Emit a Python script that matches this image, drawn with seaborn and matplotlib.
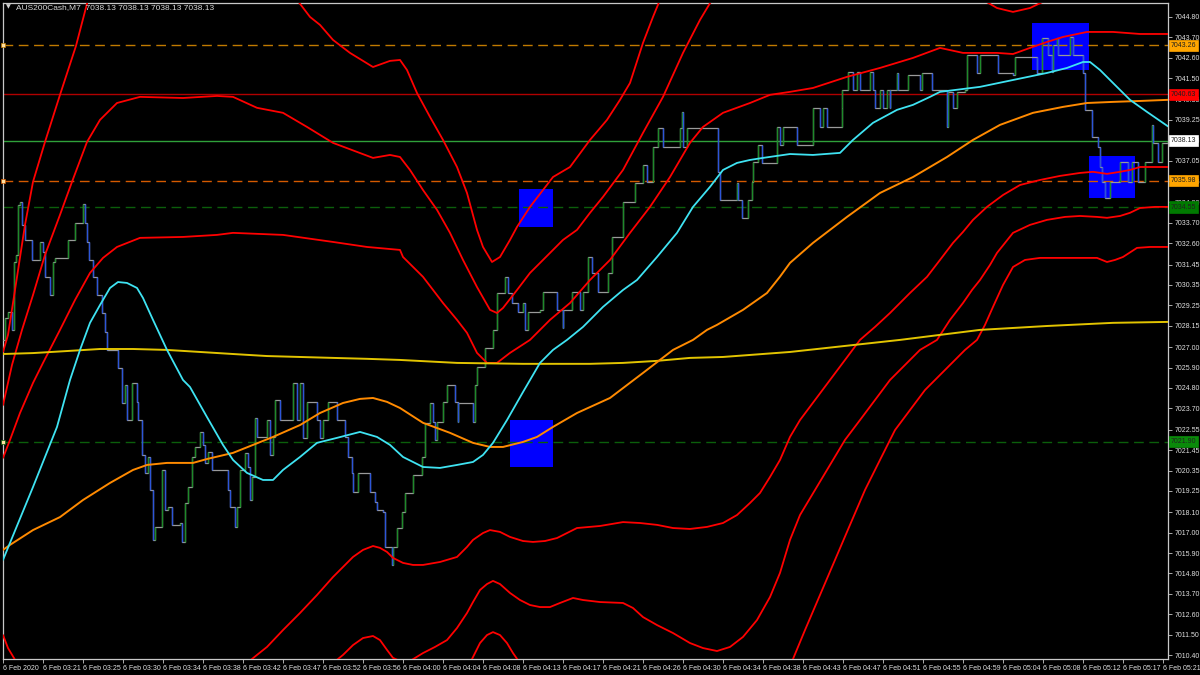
import matplotlib
matplotlib.use("Agg")
import matplotlib.pyplot as plt
import matplotlib.transforms as mtransforms
import pandas as pd
import seaborn as sns

# ---------------- data ----------------
symbol = "AUS200Cash,M7"
ohlc_text = "7038.13 7038.13 7038.13 7038.13"

time_labels = ["6 Feb 2020", "6 Feb 03:21", "6 Feb 03:25", "6 Feb 03:30", "6 Feb 03:34",
               "6 Feb 03:38", "6 Feb 03:42", "6 Feb 03:47", "6 Feb 03:52", "6 Feb 03:56",
               "6 Feb 04:00", "6 Feb 04:04", "6 Feb 04:08", "6 Feb 04:13", "6 Feb 04:17",
               "6 Feb 04:21", "6 Feb 04:26", "6 Feb 04:30", "6 Feb 04:34", "6 Feb 04:38",
               "6 Feb 04:43", "6 Feb 04:47", "6 Feb 04:51", "6 Feb 04:55", "6 Feb 04:59",
               "6 Feb 05:04", "6 Feb 05:08", "6 Feb 05:12", "6 Feb 05:17", "6 Feb 05:21"]
ticks_per_label = 40
last_tick = 1165

price_ticks = [7044.80, 7043.70, 7042.60, 7041.50, 7040.35, 7039.25, 7038.15, 7037.05,
               7035.95, 7034.80, 7033.70, 7032.60, 7031.45, 7030.35, 7029.25, 7028.15,
               7027.00, 7025.90, 7024.80, 7023.70, 7022.55, 7021.45, 7020.35, 7019.25,
               7018.10, 7017.00, 7015.90, 7014.80, 7013.70, 7012.60, 7011.50, 7010.40]
price_range = (7010.19, 7045.55)

# (tick, price) vertices of the tick price path
price_path = [
    (0, 7027.39), (2, 7028.58), (5, 7028.90), (9, 7027.93), (11, 7031.60), (13, 7031.97),
    (15, 7034.67), (17, 7034.83), (19, 7033.59), (22, 7032.78), (27, 7032.78), (29, 7031.70),
    (37, 7031.70), (37, 7032.67), (40, 7032.13), (42, 7030.79), (47, 7029.81), (50, 7031.60),
    (52, 7031.81), (64, 7031.81), (65, 7032.78), (72, 7033.70), (80, 7034.72), (82, 7033.70),
    (84, 7032.67), (86, 7031.70), (90, 7030.79), (94, 7029.81), (99, 7028.84), (102, 7027.82),
    (104, 7026.85), (112, 7026.85), (115, 7025.88), (119, 7023.99), (122, 7024.96), (124, 7023.08),
    (129, 7025.07), (134, 7024.05), (135, 7023.08), (139, 7021.19), (142, 7020.22), (145, 7021.08),
    (147, 7019.30), (150, 7016.61), (152, 7017.31), (157, 7017.31), (159, 7020.38), (162, 7018.23),
    (165, 7018.39), (169, 7017.42), (177, 7017.52), (179, 7016.50), (182, 7018.60), (185, 7019.47),
    (189, 7021.08), (192, 7021.62), (197, 7022.43), (200, 7021.73), (202, 7020.76), (205, 7021.35),
    (209, 7020.38), (220, 7020.38), (225, 7019.30), (227, 7018.39), (232, 7017.31), (234, 7018.39),
    (237, 7020.38), (242, 7021.30), (245, 7020.54), (247, 7018.77), (249, 7020.00), (252, 7023.19),
    (254, 7022.16), (262, 7022.16), (264, 7023.08), (267, 7021.19), (270, 7022.16), (272, 7024.16),
    (277, 7024.16), (277, 7023.08), (290, 7023.08), (290, 7025.07), (294, 7023.08), (297, 7025.07),
    (300, 7022.11), (304, 7024.05), (312, 7024.05), (314, 7023.08), (317, 7022.11), (320, 7023.08),
    (325, 7024.05), (330, 7024.05), (334, 7023.08), (339, 7023.08), (342, 7022.16), (345, 7021.08),
    (349, 7020.22), (350, 7019.20), (355, 7020.22), (364, 7020.22), (367, 7019.20), (372, 7018.66),
    (374, 7018.23), (380, 7018.12), (382, 7016.23), (385, 7016.23), (389, 7015.26), (390, 7016.23),
    (394, 7017.25), (399, 7018.12), (402, 7019.14), (410, 7019.14), (410, 7020.11), (419, 7020.11),
    (419, 7021.08), (422, 7022.92), (427, 7023.08), (427, 7023.99), (430, 7022.97), (432, 7022.00),
    (434, 7022.97), (439, 7022.97), (440, 7024.05), (444, 7024.96), (450, 7024.96), (452, 7024.05),
    (455, 7022.97), (455, 7023.99), (469, 7023.99), (470, 7022.97), (472, 7024.96), (474, 7025.93),
    (477, 7025.93), (482, 7026.96), (489, 7026.96), (490, 7027.93), (494, 7029.92), (497, 7029.92),
    (502, 7030.79), (505, 7029.92), (509, 7029.38), (515, 7028.90), (520, 7029.38), (522, 7027.93),
    (525, 7028.90), (537, 7029.01), (540, 7029.98), (550, 7029.98), (554, 7029.01), (560, 7028.04),
    (560, 7029.01), (569, 7029.01), (569, 7029.98), (577, 7029.98), (577, 7029.01), (580, 7029.98),
    (585, 7031.86), (589, 7031.00), (595, 7031.00), (595, 7029.98), (605, 7031.00), (609, 7031.97),
    (609, 7032.94), (615, 7032.94), (620, 7034.83), (629, 7034.83), (632, 7035.85), (640, 7035.85),
    (640, 7036.82), (644, 7035.91), (649, 7035.91), (650, 7037.79), (654, 7037.79), (655, 7038.82),
    (660, 7038.82), (660, 7037.79), (674, 7037.79), (677, 7038.82), (679, 7039.68), (680, 7037.79),
    (684, 7038.82), (714, 7038.82), (715, 7036.45), (717, 7034.94), (732, 7034.94), (734, 7035.85),
    (735, 7034.94), (739, 7033.97), (744, 7033.97), (745, 7034.94), (749, 7035.91), (750, 7036.99),
    (755, 7037.90), (759, 7036.93), (772, 7036.93), (774, 7038.87), (777, 7037.90), (780, 7038.87),
    (792, 7038.87), (794, 7037.90), (810, 7037.90), (810, 7039.90), (817, 7038.87), (820, 7039.90),
    (824, 7038.87), (839, 7039.90), (839, 7040.87), (845, 7041.84), (850, 7040.87), (854, 7041.84),
    (857, 7040.87), (865, 7040.87), (867, 7041.84), (870, 7040.87), (872, 7039.90), (877, 7040.87),
    (880, 7039.90), (884, 7040.87), (887, 7039.90), (887, 7040.87), (894, 7041.78), (895, 7040.87),
    (904, 7040.87), (905, 7041.68), (917, 7040.87), (919, 7041.78), (927, 7041.78), (929, 7040.87),
    (939, 7040.87), (944, 7038.87), (945, 7040.76), (950, 7039.90), (954, 7040.76), (962, 7040.87),
    (964, 7042.75), (970, 7042.75), (974, 7041.78), (977, 7042.75), (994, 7042.75), (995, 7041.78),
    (1010, 7041.68), (1012, 7042.65), (1027, 7042.65), (1034, 7041.78), (1039, 7043.67), (1044, 7043.67),
    (1045, 7042.75), (1049, 7041.84), (1050, 7043.29), (1054, 7043.67), (1055, 7042.75), (1064, 7042.75),
    (1067, 7043.73), (1070, 7042.75), (1080, 7042.75), (1080, 7041.78), (1082, 7039.79), (1087, 7039.79),
    (1089, 7038.33), (1095, 7037.79), (1097, 7036.72), (1099, 7035.91), (1102, 7035.04), (1107, 7035.91),
    (1117, 7036.99), (1124, 7036.99), (1125, 7035.91), (1129, 7036.99), (1135, 7035.91), (1140, 7035.91),
    (1142, 7036.99), (1147, 7036.99), (1149, 7038.98), (1150, 7038.01), (1155, 7036.99), (1159, 7038.01),
    (1165, 7038.13),
]

ma_fast = [
    (0, 7015.53), (7, 7016.45), (30, 7019.46), (54, 7022.70), (67, 7025.23), (77, 7026.85),
    (87, 7028.31), (97, 7029.27), (107, 7030.19), (115, 7030.51), (124, 7030.46), (134, 7030.19),
    (140, 7029.65), (150, 7028.47), (164, 7026.85), (180, 7025.23), (187, 7024.85), (204, 7023.23),
    (220, 7021.73), (230, 7020.92), (244, 7020.22), (260, 7019.84), (270, 7019.84), (280, 7020.38),
    (297, 7021.08), (314, 7021.84), (334, 7022.11), (357, 7022.43), (374, 7022.16), (387, 7021.73),
    (400, 7021.08), (420, 7020.54), (437, 7020.49), (454, 7020.65), (470, 7020.81), (480, 7021.19),
    (490, 7021.84), (504, 7023.07), (520, 7024.58), (537, 7026.15), (550, 7026.85), (564, 7027.39),
    (580, 7028.09), (600, 7029.17), (620, 7030.08), (634, 7030.62), (654, 7031.86), (674, 7033.16),
    (690, 7034.56), (707, 7035.64), (720, 7036.55), (734, 7036.93), (747, 7037.09), (760, 7037.20),
    (787, 7037.41), (810, 7037.36), (837, 7037.47), (850, 7038.17), (870, 7039.09), (894, 7039.79),
    (910, 7040.06), (927, 7040.49), (937, 7040.76), (977, 7041.03), (1010, 7041.40), (1044, 7041.78),
    (1064, 7042.05), (1080, 7042.37), (1087, 7042.37), (1097, 7041.94), (1110, 7041.24), (1127, 7040.33),
    (1144, 7039.68), (1165, 7038.90),
]

ma_mid = [
    (0, 7016.07), (7, 7016.34), (30, 7017.14), (57, 7017.84), (80, 7018.76), (107, 7019.68),
    (130, 7020.38), (144, 7020.65), (164, 7020.76), (190, 7020.76), (204, 7020.97), (230, 7021.30),
    (250, 7021.73), (270, 7022.16), (297, 7022.80), (317, 7023.45), (340, 7023.99), (357, 7024.21),
    (370, 7024.26), (384, 7024.05), (397, 7023.72), (420, 7022.92), (447, 7022.38), (470, 7021.84),
    (487, 7021.62), (500, 7021.62), (520, 7021.89), (534, 7022.16), (550, 7022.70), (574, 7023.45),
    (607, 7024.26), (640, 7025.61), (670, 7026.85), (690, 7027.39), (704, 7027.93), (714, 7028.20),
    (740, 7029.01), (764, 7029.92), (777, 7030.80), (787, 7031.54), (810, 7032.62), (844, 7034.02),
    (877, 7035.31), (910, 7036.17), (944, 7037.25), (970, 7038.17), (997, 7038.98), (1030, 7039.63),
    (1060, 7039.95), (1084, 7040.16), (1110, 7040.22), (1137, 7040.27), (1165, 7040.33),
]

ma_slow = [
    (0, 7026.63), (30, 7026.68), (64, 7026.79), (97, 7026.90), (130, 7026.90), (164, 7026.85),
    (197, 7026.74), (230, 7026.63), (264, 7026.52), (297, 7026.47), (330, 7026.42), (364, 7026.37),
    (397, 7026.31), (454, 7026.15), (520, 7026.10), (587, 7026.10), (620, 7026.15), (654, 7026.26),
    (687, 7026.42), (720, 7026.47), (787, 7026.74), (897, 7027.39), (977, 7027.93), (1044, 7028.14),
    (1110, 7028.31), (1165, 7028.36),
]

# envelope bands (None = curve leaves the visible range)
band_up3 = [
    (0, 7026.74), (5, 7027.66), (12, 7030.08), (22, 7033.59), (30, 7035.91), (42, 7038.06),
    (57, 7040.60), (73, 7043.24), (85, 7045.72), (89, 7046.53), None,
    (287, 7046.53), (294, 7045.72), (307, 7044.80), (317, 7044.37), (330, 7043.56), (347, 7042.86),
    (370, 7042.10), (387, 7042.43), (397, 7042.48), (404, 7041.94), (414, 7040.70), (427, 7039.41),
    (440, 7038.17), (454, 7036.71), (464, 7035.31), (474, 7033.32), (480, 7032.40), (489, 7031.59),
    (497, 7031.86), (507, 7032.78), (514, 7033.48), (527, 7034.56), (550, 7036.17), (567, 7036.71),
    (587, 7038.17), (604, 7039.25), (617, 7040.33), (627, 7041.24), (640, 7043.40), (650, 7044.80),
    (657, 7045.72), (661, 7046.53),
]
band_up2 = [
    (0, 7023.88), (9, 7026.04), (19, 7027.93), (30, 7029.81), (42, 7031.97), (57, 7034.13),
    (69, 7035.91), (84, 7038.06), (97, 7039.25), (114, 7040.16), (137, 7040.49), (180, 7040.43),
    (214, 7040.54), (230, 7040.49), (254, 7039.90), (280, 7039.63), (304, 7038.87), (330, 7038.01),
    (370, 7037.20), (387, 7037.36), (397, 7037.25), (407, 7036.55), (420, 7035.47), (434, 7034.40),
    (447, 7033.16), (460, 7031.70), (474, 7030.24), (487, 7029.01), (494, 7028.84), (500, 7029.11),
    (514, 7030.08), (527, 7031.00), (540, 7031.70), (560, 7032.78), (574, 7033.32), (587, 7034.24),
    (600, 7035.10), (620, 7036.55), (640, 7038.55), (660, 7040.49), (680, 7042.86), (697, 7044.64),
    (709, 7045.72), (713, 7046.26), None,
    (970, 7046.26), (980, 7045.72), (994, 7045.28), (1010, 7045.07), (1027, 7045.28), (1044, 7045.72),
    (1052, 7046.26),
]
band_up1 = [
    (0, 7021.03), (7, 7022.00), (17, 7023.45), (30, 7025.07), (40, 7026.15), (57, 7027.93),
    (72, 7029.54), (87, 7031.00), (100, 7031.81), (114, 7032.40), (137, 7032.89), (180, 7032.94),
    (214, 7033.05), (230, 7033.16), (280, 7033.05), (330, 7032.67), (364, 7032.40), (397, 7032.24),
    (400, 7031.86), (420, 7030.79), (440, 7029.38), (454, 7028.47), (464, 7027.77), (474, 7026.69),
    (484, 7026.15), (494, 7026.15), (507, 7026.69), (527, 7027.39), (547, 7028.47), (567, 7029.38),
    (587, 7030.62), (607, 7031.70), (627, 7033.16), (647, 7034.56), (667, 7036.17), (687, 7038.01),
    (700, 7038.87), (720, 7039.63), (747, 7040.16), (767, 7040.60), (787, 7040.76), (810, 7040.97),
    (844, 7041.57), (877, 7042.05), (910, 7042.59), (937, 7043.13), (960, 7042.86), (994, 7042.86),
    (1010, 7042.80), (1027, 7043.13), (1044, 7043.45), (1060, 7043.72), (1084, 7043.99), (1110, 7043.99),
    (1137, 7043.88), (1165, 7043.88),
]
band_dn1 = [
    (0, 7011.48), (5, 7010.78), (14, 7009.97), (18, 7009.49), None,
    (237, 7009.49), (244, 7009.97), (254, 7010.41), (264, 7010.84), (280, 7011.75), (297, 7012.67),
    (314, 7013.64), (330, 7014.61), (340, 7015.15), (350, 7015.69), (360, 7016.07), (370, 7016.28),
    (377, 7016.18), (384, 7015.96), (390, 7015.64), (400, 7015.37), (410, 7015.26), (420, 7015.26),
    (437, 7015.42), (454, 7015.69), (464, 7016.23), (470, 7016.61), (480, 7016.98), (487, 7017.14),
    (497, 7017.04), (507, 7016.77), (520, 7016.55), (530, 7016.50), (542, 7016.55), (554, 7016.71),
    (564, 7016.98), (574, 7017.25), (597, 7017.36), (620, 7017.57), (637, 7017.52), (654, 7017.42),
    (670, 7017.25), (687, 7017.20), (704, 7017.31), (720, 7017.52), (734, 7017.95), (747, 7018.60),
    (757, 7019.14), (767, 7020.00), (777, 7020.92), (787, 7022.16), (797, 7023.07), (812, 7024.15),
    (827, 7025.23), (842, 7026.31), (857, 7027.39), (872, 7028.09), (887, 7028.84), (907, 7029.92),
    (924, 7030.79), (937, 7031.70), (950, 7032.62), (960, 7033.21), (970, 7033.86), (984, 7034.56),
    (1000, 7035.20), (1017, 7035.74), (1037, 7036.01), (1057, 7036.23), (1077, 7036.39), (1090, 7036.45),
    (1104, 7036.34), (1117, 7036.45), (1127, 7036.55), (1137, 7036.71), (1152, 7036.71), (1165, 7036.71),
]
band_dn2 = [
    (326, 7009.49), (330, 7009.97), (340, 7010.41), (350, 7010.94), (360, 7011.32), (370, 7011.43),
    (377, 7011.21), (384, 7010.68), (390, 7010.25), (397, 7010.08), (407, 7010.08), (420, 7010.51),
    (432, 7010.84), (444, 7011.21), (454, 7011.86), (464, 7012.67), (470, 7013.26), (477, 7013.91),
    (484, 7014.23), (490, 7014.40), (497, 7014.23), (507, 7013.75), (517, 7013.37), (527, 7013.10),
    (537, 7012.99), (547, 7012.99), (557, 7013.21), (570, 7013.48), (580, 7013.37), (597, 7013.26),
    (620, 7013.21), (630, 7012.94), (640, 7012.45), (654, 7012.02), (670, 7011.59), (687, 7011.05),
    (700, 7010.78), (714, 7010.62), (727, 7010.84), (740, 7011.38), (754, 7012.29), (767, 7013.53),
    (777, 7014.83), (787, 7016.61), (797, 7017.95), (812, 7019.30), (827, 7020.65), (842, 7022.00),
    (857, 7023.07), (872, 7024.15), (887, 7025.23), (902, 7026.04), (917, 7026.85), (934, 7027.39),
    (947, 7028.47), (960, 7029.38), (969, 7030.08), (977, 7030.62), (987, 7031.43), (994, 7032.08),
    (1002, 7032.62), (1010, 7033.16), (1027, 7033.59), (1044, 7033.86), (1062, 7034.02), (1077, 7034.07),
    (1094, 7034.02), (1104, 7033.97), (1117, 7034.07), (1127, 7034.24), (1137, 7034.50), (1152, 7034.56),
    (1165, 7034.56),
]
band_dn3 = [
    (460, 7009.49), (467, 7009.97), (477, 7011.05), (484, 7011.48), (490, 7011.64), (497, 7011.48),
    (504, 7011.05), (510, 7010.51), (517, 7009.97), (522, 7009.49), None,
    (785, 7009.49), (790, 7010.19), (802, 7011.75), (817, 7013.64), (832, 7015.53), (847, 7017.42),
    (862, 7019.30), (877, 7020.92), (892, 7022.53), (907, 7023.61), (922, 7024.69), (937, 7025.50),
    (952, 7026.31), (962, 7026.85), (974, 7027.39), (982, 7028.20), (990, 7029.17), (1000, 7030.35),
    (1010, 7031.32), (1022, 7031.70), (1037, 7031.81), (1067, 7031.81), (1094, 7031.81), (1104, 7031.59),
    (1112, 7031.70), (1120, 7031.86), (1134, 7032.35), (1147, 7032.40), (1165, 7032.40),
]

# horizontal levels and zones
level_prices = [7043.26, 7040.63, 7038.13, 7035.98, 7034.55, 7021.90]
zone_ticks = [(516, 550), (507, 550), (1029, 1086), (1086, 1132)]
zone_prices = [(7033.48, 7035.53), (7020.54, 7023.07), (7041.94, 7044.48), (7035.04, 7037.31)]

# ---------------- styling ----------------
level_styles = [
    dict(color="#C07A00", ls=(0, (7, 4)), box="#FFA500", mark=True),
    dict(color="#B00000", ls="-", box="#FF0000", mark=False),
    dict(color="#2FA03A", ls="-", box="#FFFFFF", mark=False),
    dict(color="#D45A00", ls=(0, (7, 4)), box="#FFA500", mark=True),
    dict(color="#0B5E0B", ls=(0, (7, 4)), box="#007A00", mark=False),
    dict(color="#0B5E0B", ls=(0, (7, 4)), box="#0A8A0A", mark=True),
]
TICK_FONT = 5.0

sns.set_theme(style="dark")
plt.rcParams["font.family"] = ["Liberation Sans", "DejaVu Sans"]
plt.rcParams["axes.grid"] = False

fig = plt.figure(figsize=(12, 6.75), dpi=100, facecolor="black")
ax = fig.add_axes([3 / 1200, 16 / 675, 1165 / 1200, 656 / 675])
ax.set_facecolor("black")

# zones
for (t0, t1), (p0, p1) in zip(zone_ticks, zone_prices):
    ax.fill_between([t0, t1], [p0, p0], [p1, p1], color="#0000FF", lw=0, zorder=1)

# levels
for lvl, st in zip(level_prices, level_styles):
    ax.axhline(lvl, color=st["color"], ls=st["ls"], lw=1.0, zorder=2)
    if st["mark"]:
        ax.plot([0], [lvl], marker="s", ms=2.6, color="#FFE0A0", mec=st["color"],
                mew=0.5, clip_on=False, zorder=6)


def draw(series, color, lw=1.25, z=3):
    seg = []
    for pt in list(series) + [None]:
        if pt is None:
            if seg:
                df = pd.DataFrame(seg, columns=["tick", "price"])
                sns.lineplot(data=df, x="tick", y="price", ax=ax, color=color, linewidth=lw,
                             sort=False, estimator=None, legend=False, zorder=z)
            seg = []
        else:
            seg.append(pt)


# price path
pdf = pd.DataFrame(price_path, columns=["tick", "price"])
sns.lineplot(data=pdf, x="tick", y="price", ax=ax, color="#9A9A9A", linewidth=0.9,
             sort=False, estimator=None, legend=False, drawstyle="steps-post", zorder=3)
prev = pdf["price"].shift(1)
moves = pdf[prev.notna() & (pdf["price"] != prev)].copy()
moves["prev"] = prev[moves.index]
up = moves[moves["price"] > moves["prev"]]
dn = moves[moves["price"] < moves["prev"]]
ax.vlines(up["tick"], up["prev"], up["price"], color="#1E8A2A", lw=1.0, zorder=4)
ax.vlines(dn["tick"], dn["prev"], dn["price"], color="#2C55D8", lw=1.0, zorder=4)

# indicator curves
for band in (band_up3, band_up2, band_up1, band_dn1, band_dn2, band_dn3):
    draw(band, "#FF0000", lw=1.3, z=5)
draw(ma_slow, "#E2C400", lw=1.4, z=5)
draw(ma_mid, "#FF8A00", lw=1.4, z=5)
draw(ma_fast, "#3FE3F2", lw=1.3, z=5)

# axes
ax.set_xlim(0, last_tick)
ax.set_ylim(*price_range)
ax.set_xlabel("")
ax.set_ylabel("")
ax.set_xticks([i * ticks_per_label for i in range(len(time_labels))])
ax.set_xticklabels(time_labels)
for lbl in ax.get_xticklabels():
    lbl.set_ha("left")
ax.yaxis.tick_right()
ax.set_yticks(price_ticks)
ax.set_yticklabels([f"{v:.2f}" for v in price_ticks])
ax.tick_params(axis="x", bottom=True, length=3, width=0.6, color="#C8C8C8",
               labelsize=TICK_FONT, labelcolor="#E0E0E0", pad=1.5)
ax.tick_params(axis="y", right=True, left=False, length=3, width=0.6, color="#C8C8C8",
               labelsize=TICK_FONT, labelcolor="#E0E0E0", pad=1.5)
for sp in ax.spines.values():
    sp.set_color("#C8C8C8")
    sp.set_linewidth(0.9)
    sp.set_visible(True)

# price boxes on the right scale (they cover the tick labels underneath)
tr = mtransforms.blended_transform_factory(ax.transAxes, ax.transData)
for lvl, st in zip(level_prices, level_styles):
    ax.text(1.0025, lvl, f"{lvl:.2f}", transform=tr, ha="left", va="center", fontsize=TICK_FONT,
            color="#202020", zorder=10, clip_on=False,
            bbox=dict(boxstyle="square,pad=0.3", fc=st["box"], ec=st["box"], lw=0.5))

# header
fig.text(0.005, 0.9895, "\u25bc", color="#D0D0D0", fontsize=4.5, va="center", ha="left",
         family=["DejaVu Sans"])
fig.text(0.0135, 0.9895, f"{symbol}  {ohlc_text}", color="#D8D8D8", fontsize=6.0,
         va="center", ha="left")

fig.savefig("out.png", dpi=100, facecolor="black")
